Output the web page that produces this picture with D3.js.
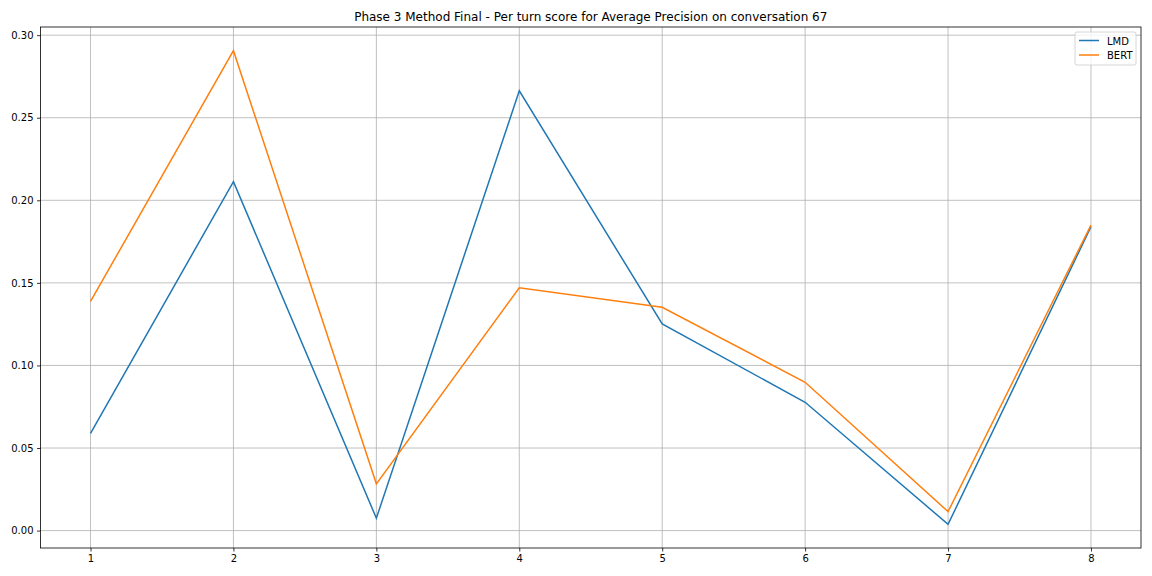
<!DOCTYPE html>
<html>
<head>
<meta charset="utf-8">
<script src="https://cdn.jsdelivr.net/npm/d3@7"></script>
<style>
  body{margin:0;background:#fff;}
  text{font-family:"DejaVu Sans",sans-serif;fill:#000;}
</style>
</head>
<body>
<div id="chart"></div>
<script>
const turns = [1,2,3,4,5,6,7,8]
const lmd  = [0.0589,0.2113,0.0075,0.2663,0.1251,0.0777,0.0038,0.1840]
const bert = [0.1388,0.2906,0.0283,0.1470,0.1352,0.0898,0.0115,0.1850]
const yTicks = [0.00,0.05,0.10,0.15,0.20,0.25,0.30]
const seriesNames = ["LMD","BERT"]
const colors = ["#1f77b4","#ff7f0e"]

let width = 1152, height = 576,
    margin = {top:27, left:40.5, right:11, bottom:28}
const innerW = width - margin.left - margin.right,
      innerH = height - margin.top - margin.bottom

const svg = d3.select("#chart").append("svg")
  .attr("width",width).attr("height",height)
  .style("background-color","#fff")

const g = svg.append("g").attr("transform",`translate(${margin.left},${margin.top})`)

const x = d3.scaleLinear().domain([0.65,8.35]).range([0,innerW])
const all = lmd.concat(bert)
const lo = d3.min(all), hi = d3.max(all), pad = (hi-lo)*0.05
const y = d3.scaleLinear().domain([lo-pad,hi+pad]).range([innerH,0])

const xAxis = d3.axisBottom(x).tickValues(turns).tickFormat(d3.format("d")).tickSize(3.5).tickPadding(3.5)
const yAxis = d3.axisLeft(y).tickValues(yTicks).tickFormat(d3.format(".2f")).tickSize(3.5).tickPadding(3.5)

// grid
g.append("g").selectAll("line").data(turns).enter().append("line")
  .attr("x1",d=>x(d)).attr("x2",d=>x(d)).attr("y1",0).attr("y2",innerH)
  .attr("stroke","#b0b0b0").attr("stroke-width",0.8)
g.append("g").selectAll("line").data(yTicks).enter().append("line")
  .attr("y1",d=>y(d)).attr("y2",d=>y(d)).attr("x1",0).attr("x2",innerW)
  .attr("stroke","#b0b0b0").attr("stroke-width",0.8)

const line = d3.line().x((d,i)=>x(turns[i])).y(d=>y(d))
;[lmd,bert].forEach((s,k)=>{
  g.append("path").datum(s).attr("d",line)
    .attr("fill","none").attr("stroke",colors[k]).attr("stroke-width",1.5)
})

let xGroup = g.append("g").attr("transform",`translate(0,${innerH})`).call(xAxis)
let yGroup = g.append("g").call(yAxis)
;[xGroup,yGroup].forEach(a=>{
  a.select(".domain").remove()
  a.selectAll(".tick line").attr("stroke","#000").attr("stroke-width",0.8)
  a.selectAll(".tick text").style("font-size","10px").attr("fill","#000")
})

// frame
g.append("rect").attr("width",innerW).attr("height",innerH)
  .attr("fill","none").attr("stroke","#000").attr("stroke-width",0.8)

svg.append("text").attr("x",margin.left+innerW/2).attr("y",21)
  .attr("text-anchor","middle").style("font-size","12px")
  .text("Phase 3 Method Final - Per turn score for Average Precision on conversation 67")

// legend
const lg = g.append("g").attr("transform",`translate(${innerW-66},5)`)
lg.append("rect").attr("width",61).attr("height",33).attr("rx",2)
  .attr("fill","#fff").attr("fill-opacity",0.8).attr("stroke","#ccc").attr("stroke-width",0.8)
seriesNames.forEach((n,i)=>{
  lg.append("line").attr("x1",4).attr("x2",24).attr("y1",8.5+i*14.5).attr("y2",8.5+i*14.5)
    .attr("stroke",colors[i]).attr("stroke-width",1.5)
  lg.append("text").attr("x",32).attr("y",12.5+i*14.5).style("font-size","10px").text(n)
})
</script>
</body>
</html>
